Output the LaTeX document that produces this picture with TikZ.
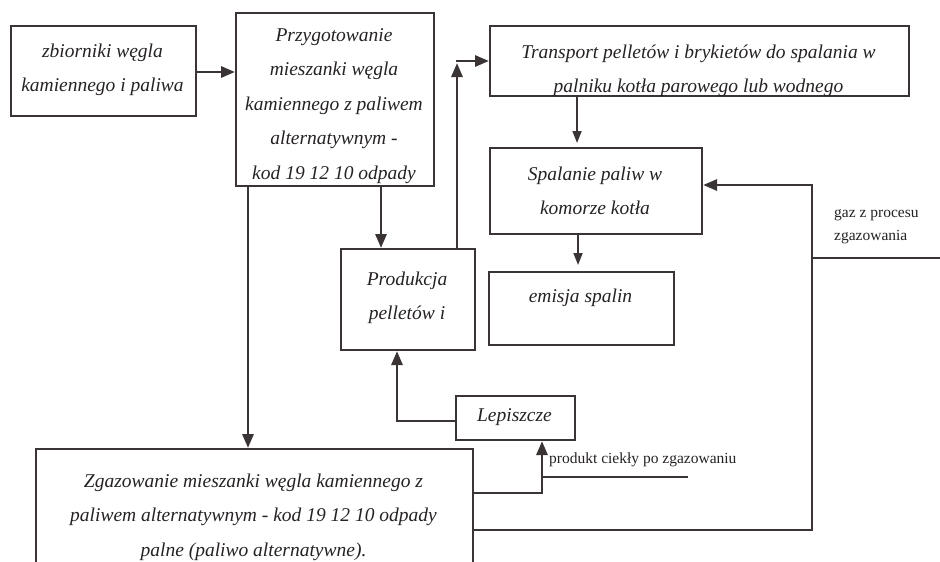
\documentclass[tikz,border=0pt]{standalone}
\usepackage{fontspec}
\setmainfont{Liberation Serif}
\usetikzlibrary{arrows.meta}
\definecolor{ln}{HTML}{3B3434}
\definecolor{tx}{HTML}{262222}
\begin{document}
\begin{tikzpicture}[x=1pt,y=-1pt,
  box/.style={draw=ln,line width=2.1pt,inner sep=0pt,anchor=north west},
  txt/.style={text=tx,font=\fontsize{19.5}{34.5}\selectfont\itshape,align=center,inner sep=0pt},
  lbl/.style={text=tx,font=\fontsize{15.5}{23}\selectfont,align=left,inner sep=0pt},
  conn/.style={draw=ln,line width=2.9pt,-{Triangle[length=14pt,width=11pt]}},
  thinconn/.style={draw=ln,line width=1.7pt,-{Triangle[length=12pt,width=9pt]}},
  plain/.style={draw=ln,line width=1.6pt}]
\clip (0,0) rectangle (940,562);
\fill[white] (0,0) rectangle (940,562);
% boxes
\node[box,minimum width=185pt,minimum height=90pt] (A) at (10,25) {};
\node[txt] (At) at (102.5,70) {zbiorniki węgla\\kamiennego i paliwa};
\node[box,minimum width=198pt,minimum height=173pt] (B) at (235,12) {};
\node[txt] (Bt) at (334,106) {Przygotowanie\\mieszanki węgla\\kamiennego z paliwem\\alternatywnym -\\kod 19 12 10 odpady};
\node[box,minimum width=419pt,minimum height=70pt] (C) at (489,25) {};
\begin{scope}
\clip (C.north west) rectangle ([yshift=1pt]C.south east);
\node[txt] (Ct) at (698.5,71) {Transport pelletów i brykietów do spalania w\\palniku kotła parowego lub wodnego};
\end{scope}
\node[box,minimum width=212pt,minimum height=86pt] (D) at (489,147) {};
\node[txt] (Dt) at (595,191) {Spalanie paliw w\\komorze kotła};
\node[box,minimum width=185pt,minimum height=73pt] (E) at (488,271) {};
\node[txt] (Et) at (580.5,298) {emisja spalin};
\node[box,minimum width=134pt,minimum height=101pt] (F) at (340,248) {};
\node[txt] (Ft) at (407,298) {Produkcja\\pelletów i};
\node[box,minimum width=119pt,minimum height=44pt] (G) at (455,395) {};
\node[txt] (Gt) at (514.5,417) {Lepiszcze};
\node[box,minimum width=437pt,minimum height=150pt] (H) at (35,448) {};
\node[txt] (Ht) at (253.5,517) {Zgazowanie mieszanki węgla kamiennego z\\paliwem alternatywnym - kod 19 12 10 odpady\\palne (paliwo alternatywne).};
% labels
\node[lbl,anchor=west] (L1) at (549,460) {produkt ciekły po zgazowaniu};
\node[lbl,anchor=west] (L2) at (834,226.5) {gaz z procesu\\zgazowania};
% helper coordinates
\coordinate (xq) at (248,0);
\coordinate (xp) at (381,0);
\coordinate (xu) at (457,0);
\coordinate (xt) at (577,0);
\coordinate (xe) at (578,0);
\coordinate (xl) at (397,0);
\coordinate (xg) at (542,0);
\coordinate (xr) at (812,0);
\coordinate (xk) at (688,0);
\coordinate (xend) at (945,0);
\coordinate (yu) at (0,63);
\coordinate (ya) at (0,72);
\coordinate (yl) at (0,421);
\coordinate (yg) at (0,493);
\coordinate (yz) at (0,530);
\coordinate (ys) at (0,185);
\coordinate (yh) at (0,258);
\coordinate (yk) at (0,477);
\coordinate (corner) at (457,61);
% connectors
\draw[conn] (A.east |- ya) -- (B.west |- ya);
\draw[conn] (B.south -| xp) -- (F.north -| xp);
\draw[conn] (B.south -| xq) -- (H.north -| xq);
\draw[conn] (F.north -| xu) -- (xu |- yu);
\draw[conn] ([xshift=-1.4pt]corner) -- (C.west |- corner);
\draw[thinconn,shorten >=4pt] (C.south -| xt) -- (D.north -| xt);
\draw[thinconn,shorten >=6pt] (D.south -| xe) -- (E.north -| xe);
\draw[conn] (G.west |- yl) -- (xl |- yl) -- (F.south -| xl);
\draw[conn] (H.east |- yg) -- (xg |- yg) -- (G.south -| xg);
\draw[plain] (xg |- yk) -- (xk |- yk);
\draw[conn] (H.east |- yz) -- (xr |- yz) -- (xr |- ys) -- (D.east |- ys);
\draw[plain] (xr |- yh) -- (xend |- yh);
\end{tikzpicture}
\end{document}
